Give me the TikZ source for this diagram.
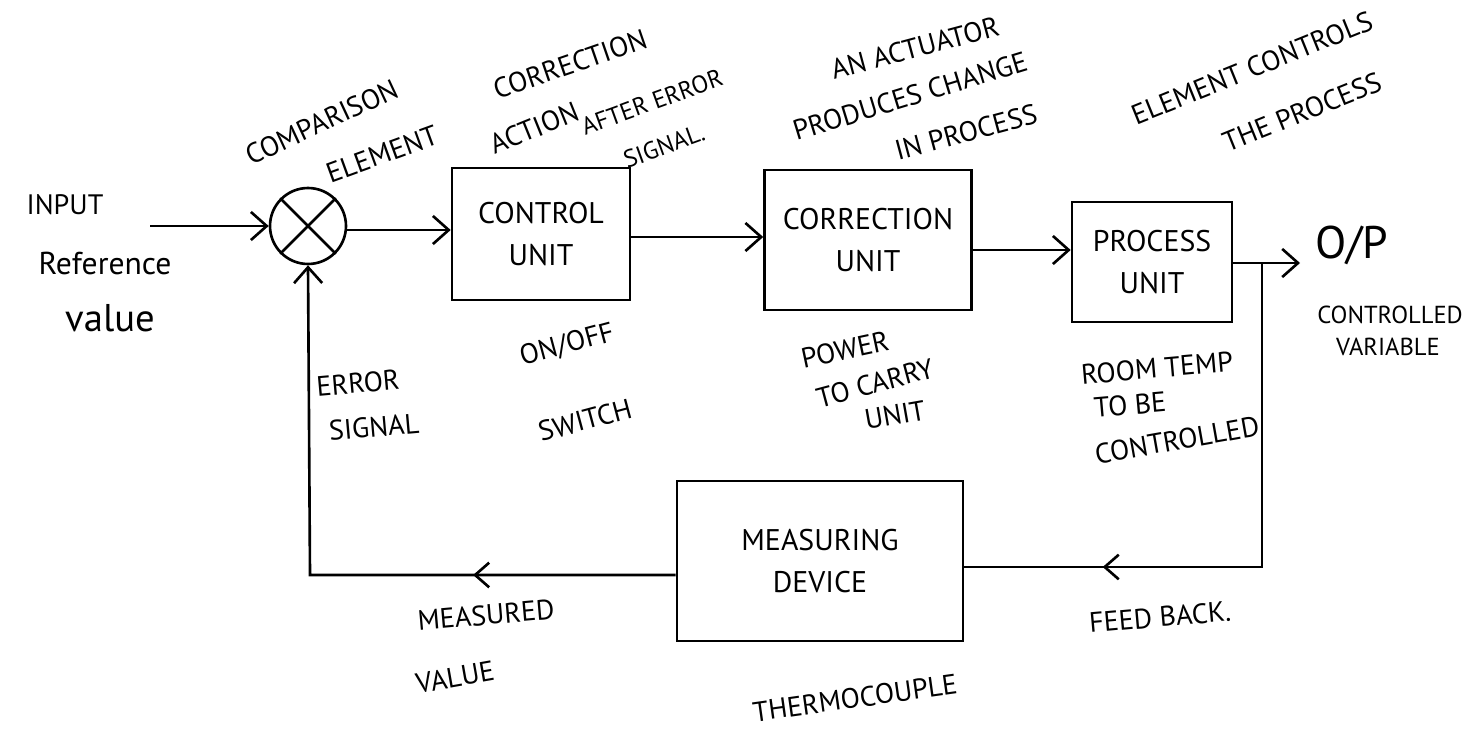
\documentclass[tikz,border=0pt]{standalone}
\usepackage{fontspec}
\setmainfont{PT Sans}
\usetikzlibrary{arrows.meta,positioning,decorations.markings,calc}
\tikzset{
  unit/.style={draw, line width=1.5pt, align=center, inner sep=0pt,
    font=\fontsize{17}{24}\selectfont},
  note/.style={align=center, inner sep=1pt, font=\fontsize{16}{20}\selectfont},
  small/.style={font=\fontsize{14}{18}\selectfont},
  wire/.style={line width=1.5pt},
  flow/.style={wire, -{Straight Barb[length=9pt,width=16pt,line width=1.5pt]}},
  midarrow/.style={decoration={markings, mark=at position #1 with
    {\arrow{Straight Barb[length=8pt,width=14pt,line width=1.5pt]}}},
    postaction={decorate}}
}
\begin{document}
\begin{tikzpicture}[x=0.02cm, y=-0.02cm]
\useasboundingbox (0,0) rectangle (1463,733);

% blocks
\node[draw, circle, line width=1.5pt, minimum size=1.52cm, inner sep=0pt] (cmp) at (308,226) {};
\draw[wire] (cmp.north west) -- (cmp.south east);
\draw[wire] (cmp.north east) -- (cmp.south west);
\node[unit, minimum width=3.56cm, minimum height=2.64cm] (ctrl) at (541,234) {CONTROL\\UNIT};
\node[unit, minimum width=4.14cm, minimum height=2.8cm] (corr) at (868,240) {CORRECTION\\UNIT};
\node[unit, minimum width=3.2cm, minimum height=2.4cm] (proc) at (1152,262) {PROCESS\\UNIT};
\node[unit, minimum width=5.72cm, minimum height=3.2cm] (meas) at (820,561) {MEASURING\\DEVICE};

% forward path
\coordinate (in) at (150,226);
\coordinate (out) at (1300,263);
\coordinate (tap) at (1262,263);
\draw[flow] (in) -- (cmp.west);
\draw[flow] (cmp.east |- 0,230) -- (ctrl.west |- 0,230);
\draw[flow] (ctrl.east |- 0,237) -- (corr.west |- 0,237);
\draw[flow] (corr.east |- 0,250) -- (proc.west |- 0,250);
\draw[flow] (proc.east |- out) -- (out);

% feedback path
\draw[wire, midarrow=0.77] (tap) -- (1262,567) -- (meas.east |- 0,567);
\draw[flow, midarrow=0.3] (meas.west |- 0,575) -- (310,575) -- (cmp.south);

% labels
\node[note] (lin) at (65,205) {INPUT};
\node[note, font=\fontsize{18}{20}\selectfont] (lref) at (105,263) {Reference};
\node[note, font=\fontsize{22}{24}\selectfont] (lval) at (110,318) {value};
\node[note, rotate=25] (lcmp1) at (322,122) {COMPARISON};
\node[note, rotate=20] (lcmp2) at (382,154) {ELEMENT};
\node[note, rotate=19] (lcor1) at (570,64) {CORRECTION};
\node[note, rotate=22] (lcor2) at (534,128) {ACTION};
\node[note, small, rotate=20] (lcor3) at (652,102) {AFTER ERROR};
\node[note, small, rotate=20] (lcor4) at (664,146) {SIGNAL.};
\node[note, rotate=15] (lact1) at (915,48) {AN ACTUATOR};
\node[note, rotate=17] (lact2) at (910,96) {PRODUCES CHANGE};
\node[note, rotate=15] (lact3) at (966,132) {IN PROCESS};
\node[note, rotate=22] (lelm1) at (1252,68) {ELEMENT CONTROLS};
\node[note, rotate=22] (lelm2) at (1302,112) {THE PROCESS};
\node[note, font=\fontsize{26}{28}\selectfont] (lop) at (1352,245) {O/P};
\node[note, small] (lcv1) at (1390,315) {CONTROLLED};
\node[note, small] (lcv2) at (1388,347) {VARIABLE};
\node[note, rotate=15] (lsw1) at (567,345) {ON/OFF};
\node[note, rotate=15] (lsw2) at (585,420) {SWITCH};
\node[note, rotate=12] (lpw1) at (845,350) {POWER};
\node[note, rotate=15] (lpw2) at (875,383) {TO CARRY};
\node[note, rotate=10] (lpw3) at (895,415) {UNIT};
\node[note, rotate=5] (lrt1) at (1157,368) {ROOM TEMP};
\node[note, rotate=5] (lrt2) at (1130,405) {TO BE};
\node[note, rotate=10] (lrt3) at (1177,440) {CONTROLLED};
\node[note, rotate=5] (ler1) at (358,383) {ERROR};
\node[note, rotate=5] (ler2) at (374,427) {SIGNAL};
\node[note, rotate=5] (lmv1) at (486,615) {MEASURED};
\node[note, rotate=10] (lmv2) at (455,677) {VALUE};
\node[note, rotate=5] (lfb) at (1160,617) {FEED BACK.};
\node[note, rotate=8] (lth) at (855,698) {THERMOCOUPLE};
\end{tikzpicture}
\end{document}
